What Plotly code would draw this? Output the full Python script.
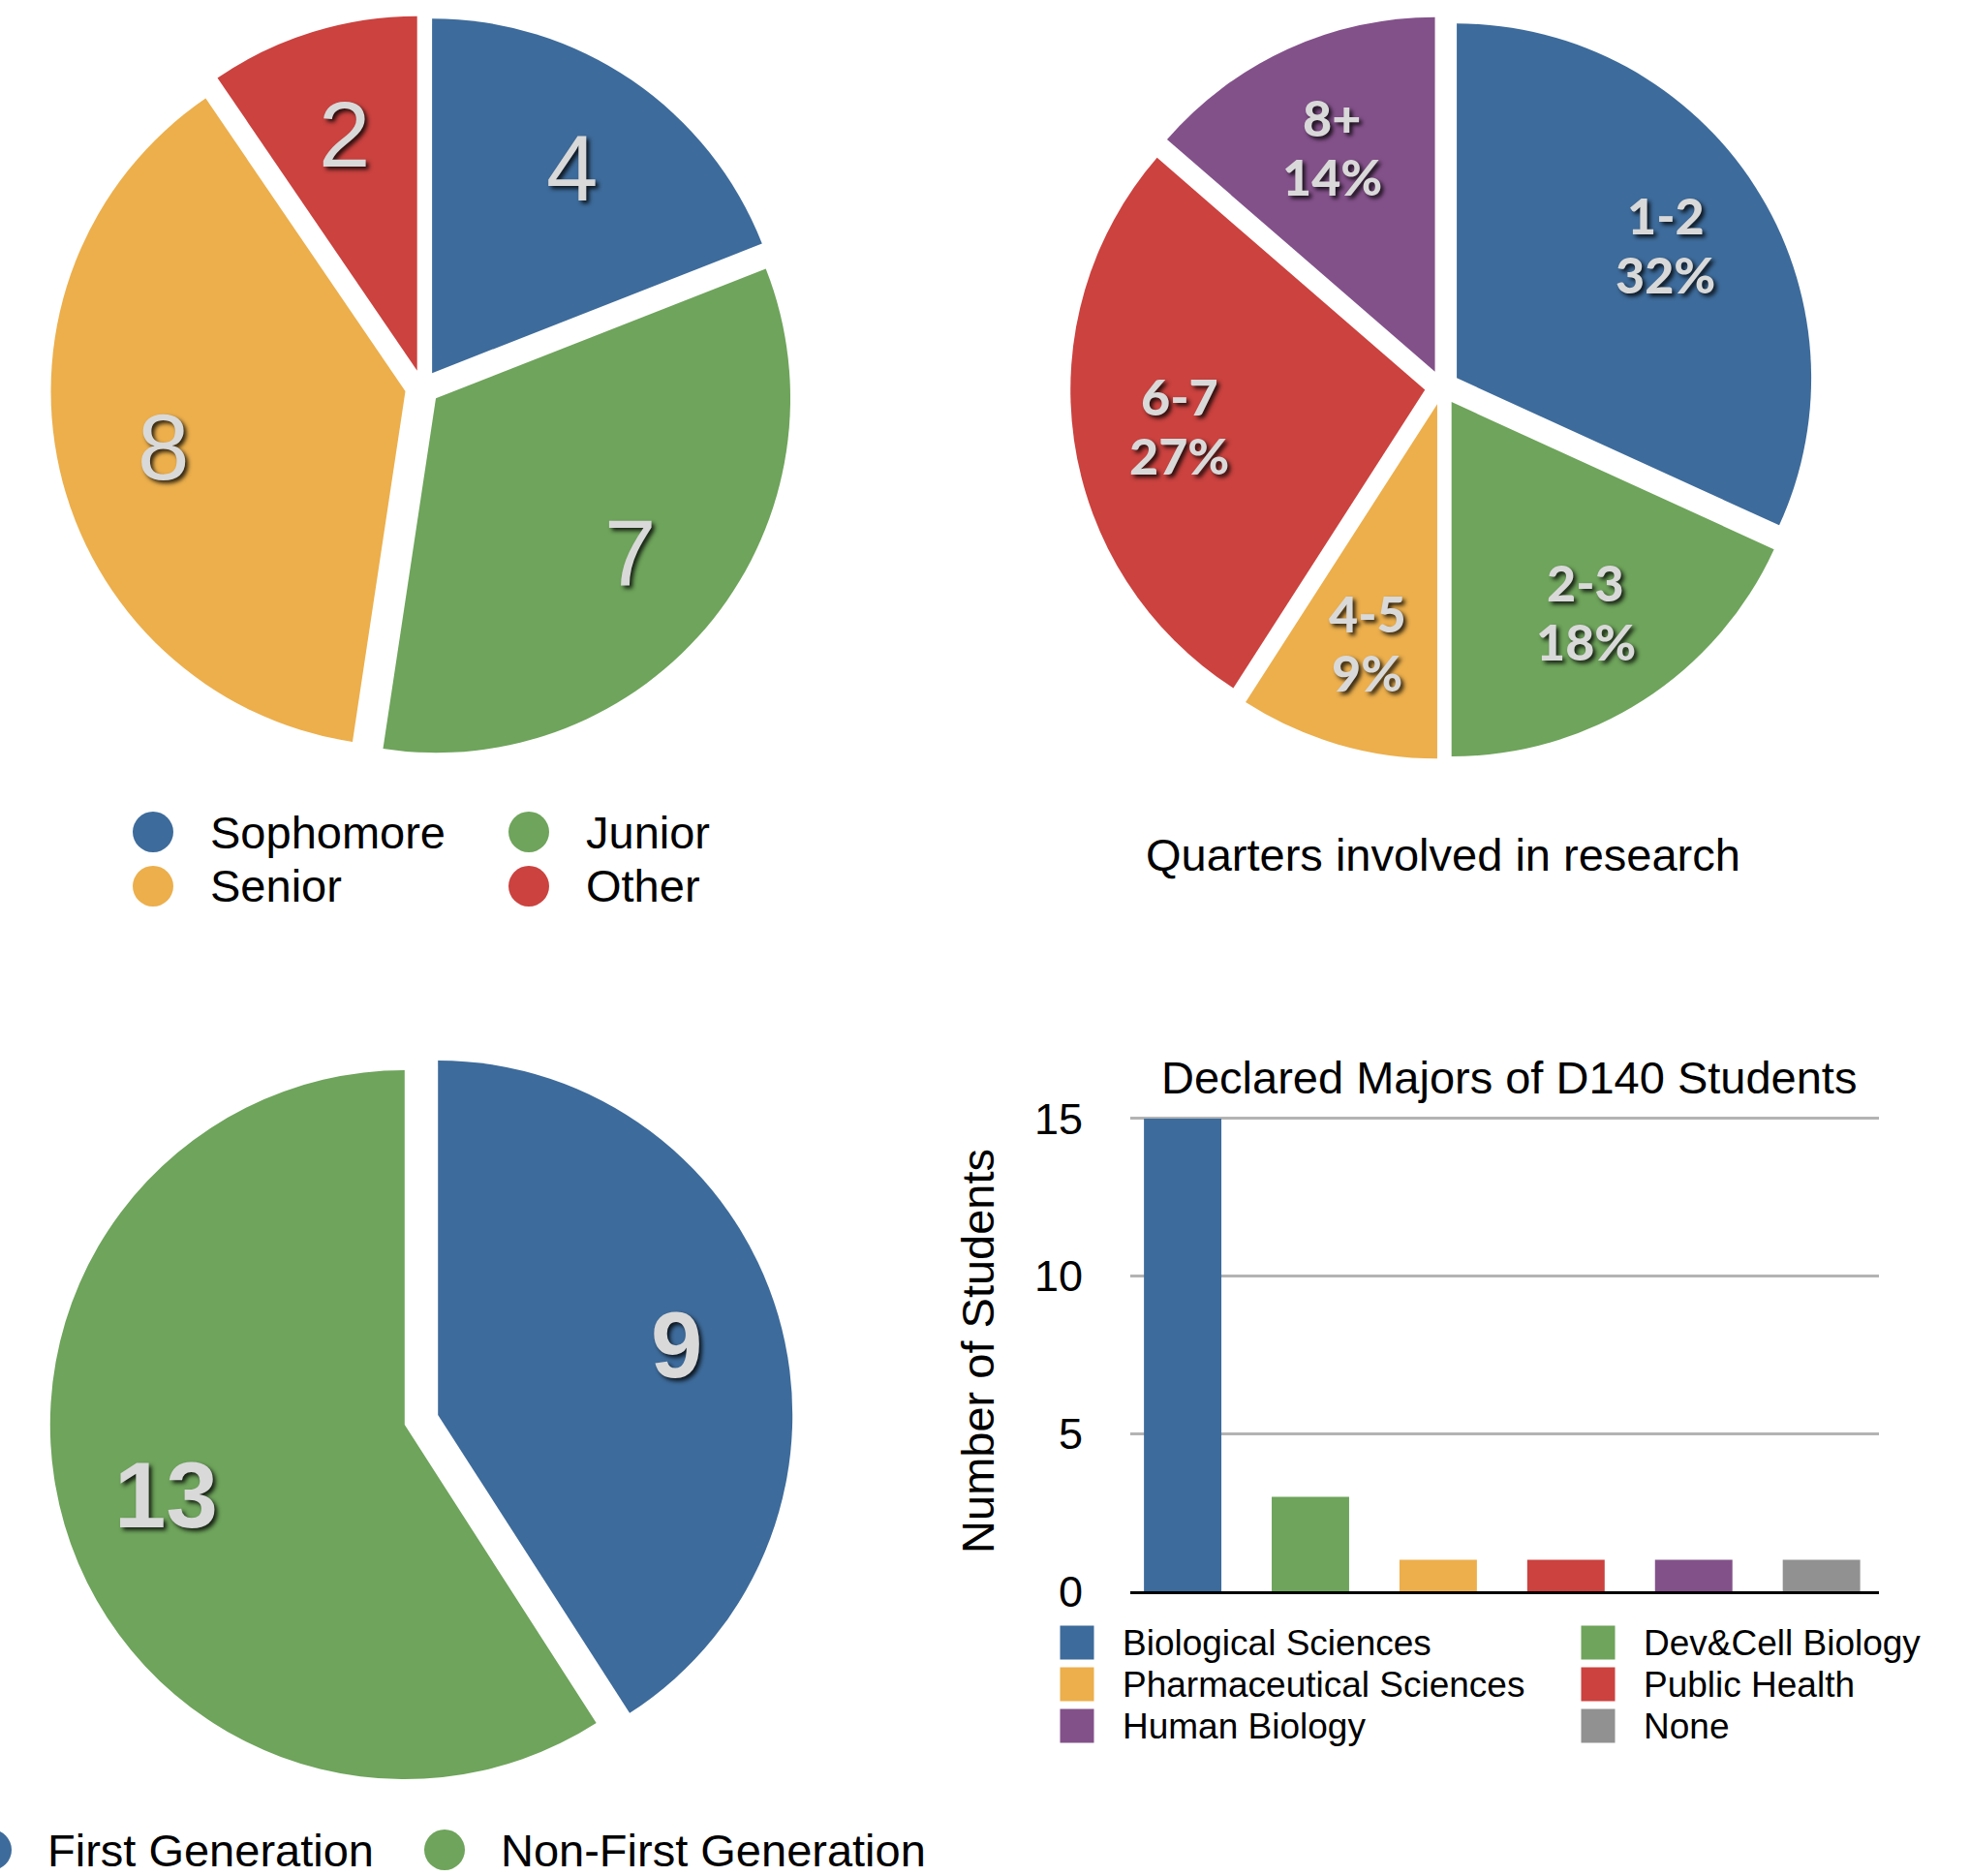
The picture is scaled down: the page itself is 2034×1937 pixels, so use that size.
import math
import plotly.graph_objects as go

# ---------------- data ----------------
class_years = ["Sophomore", "Junior", "Senior", "Other"]
class_counts = [4, 7, 8, 2]

quarter_bins = ["1-2", "2-3", "4-5", "6-7", "8+"]
quarter_counts = [7, 4, 2, 6, 3]

generation_groups = ["First Generation", "Non-First Generation"]
generation_counts = [9, 13]

majors = ["Biological Sciences", "Dev&Cell Biology", "Pharmaceutical Sciences",
          "Public Health", "Human Biology", "None"]
major_counts = [15, 3, 1, 1, 1, 1]

count_ticks = [0, 5, 10, 15]

# ---------------- styling ----------------
BLUE, GREEN, YELLOW = "#3d6b9b", "#6ea45b", "#ecaf4c"
RED, PURPLE, GRAY = "#cb423f", "#83518a", "#909190"
class_colors = [BLUE, GREEN, YELLOW, RED]
quarter_colors = [BLUE, GREEN, YELLOW, RED, PURPLE]
generation_colors = [BLUE, GREEN]
major_colors = [BLUE, GREEN, YELLOW, RED, PURPLE, GRAY]

W, H = 2034, 1937
FONT = "Liberation Sans, Arial, Helvetica, sans-serif"
LABEL_GRAY = "#d9d9d9"
SHADOW = "3px 3px 4px rgba(0,0,0,0.8)"

R = 366          # pie radius in px
PULL = 0.049     # every slice is pulled out by this fraction of the radius
LABEL_R = 0.70   # label distance from the pulled slice centre, as a fraction of R

CLASS_C = (436, 400)
QUARTER_C = (1489, 400)
GEN_C = (435, 1466)

# bar panel: y=0 sits at BAR_Y0 px, one student is BAR_UNIT px tall
BAR_Y0, BAR_UNIT, Y_TOP = 1643, 488 / 15, 15.25


def px(x):
    return x / W


def py(y):
    return 1 - y / H


def pie_domain(c):
    cx, cy = c
    half = R * (1 + PULL)
    return dict(x=[px(cx - half), px(cx + half)], y=[py(cy + half), py(cy - half)])


def slice_anchors(values, c):
    total = sum(values)
    cx, cy = c
    cum = 0
    pts = []
    for v in values:
        mid = 2 * math.pi * (cum + v / 2) / total
        d = R * (PULL + LABEL_R)
        pts.append((cx + d * math.sin(mid), cy - d * math.cos(mid)))
        cum += v
    return pts


fig = go.Figure()

pie_common = dict(sort=False, direction="clockwise", rotation=0, textinfo="none",
                  hoverinfo="label+value", showlegend=False)

fig.add_trace(go.Pie(labels=class_years, values=class_counts, domain=pie_domain(CLASS_C),
                     marker=dict(colors=class_colors, line=dict(width=0)),
                     pull=[PULL] * len(class_counts), **pie_common))
fig.add_trace(go.Pie(labels=quarter_bins, values=quarter_counts, domain=pie_domain(QUARTER_C),
                     marker=dict(colors=quarter_colors, line=dict(width=0)),
                     pull=[PULL] * len(quarter_counts), **pie_common))
fig.add_trace(go.Pie(labels=generation_groups, values=generation_counts, domain=pie_domain(GEN_C),
                     marker=dict(colors=generation_colors, line=dict(width=0)),
                     pull=[PULL] * len(generation_counts), **pie_common))

# bar chart of declared majors
fig.add_trace(go.Bar(x=majors, y=major_counts, width=0.606,
                     marker=dict(color=major_colors, line=dict(width=0)),
                     showlegend=False, xaxis="x", yaxis="y"))

annotations = []
shapes = []


def note(x, y, text, font, xanchor="center", **kw):
    annotations.append(dict(x=px(x), y=py(y), xref="paper", yref="paper", text=text,
                            showarrow=False, xanchor=xanchor, yanchor="middle",
                            font=font, **kw))


# slice value labels
for (x, y), v in zip(slice_anchors(class_counts, CLASS_C), class_counts):
    note(x, y, str(v), dict(family=FONT, size=96, color=LABEL_GRAY, shadow=SHADOW))

for (x, y), v in zip(slice_anchors(generation_counts, GEN_C), generation_counts):
    note(x, y, str(v), dict(family=FONT, size=96, color=LABEL_GRAY, weight="bold", shadow=SHADOW))

q_total = sum(quarter_counts)
q_font = dict(family="Lato, Open Sans, sans-serif", size=52, color=LABEL_GRAY, weight=900,
              shadow=SHADOW)
for (x, y), lab, v in zip(slice_anchors(quarter_counts, QUARTER_C), quarter_bins, quarter_counts):
    note(x, y - 30, lab, q_font)
    note(x, y + 31, f"{round(100 * v / q_total)}%", q_font)

note(1490, 882, "Quarters involved in research", dict(family=FONT, size=47, color="black"))
note(1558, 1112, "Declared Majors of D140 Students", dict(family=FONT, size=47, color="black"))


def swatch_legend(names, colors, col_x, row_y, text_dx, d, size, symbol="circle"):
    ncol = len(col_x)
    for i, (name, col) in enumerate(zip(names, colors)):
        cx = col_x[i % ncol]
        cy = row_y[i // ncol]
        shapes.append(dict(type=symbol, xref="paper", yref="paper",
                           x0=px(cx - d / 2), x1=px(cx + d / 2),
                           y0=py(cy + d / 2), y1=py(cy - d / 2),
                           fillcolor=col, line=dict(width=0)))
        note(cx + text_dx, cy, name, dict(family=FONT, size=size, color="black"), xanchor="left")


swatch_legend(class_years, class_colors, [158, 546], [859, 915], 57, 42, 47)
swatch_legend(generation_groups, generation_colors, [-9, 459], [1910], 56, 42, 47)
swatch_legend(majors, major_colors, [1112, 1650], [1696, 1739, 1782], 45, 35, 37, symbol="rect")

fig.update_layout(
    width=W, height=H,
    margin=dict(l=0, r=0, t=0, b=0, pad=0, autoexpand=False),
    paper_bgcolor="white", plot_bgcolor="white",
    font=dict(family=FONT, color="black"),
    annotations=annotations,
    shapes=shapes,
    showlegend=False,
    xaxis=dict(domain=[px(1167), px(1940)], type="category", range=[-0.41, 5.45],
               showticklabels=False, ticks="", showgrid=False, zeroline=False,
               showline=True, linecolor="black", linewidth=3, anchor="y",
               automargin=False),
    yaxis=dict(domain=[py(BAR_Y0), py(BAR_Y0 - Y_TOP * BAR_UNIT)], range=[0, Y_TOP],
               tickvals=count_ticks,
               showgrid=True, gridcolor="#b3b3b3", gridwidth=3, zeroline=False,
               showline=False, ticks="", ticklabelstandoff=48,
               tickfont=dict(family=FONT, size=45, color="black"),
               title=dict(text="Number of Students", standoff=26,
                          font=dict(family=FONT, size=47, color="black")),
               anchor="x", automargin=False),
)

fig.write_html("out.html")
